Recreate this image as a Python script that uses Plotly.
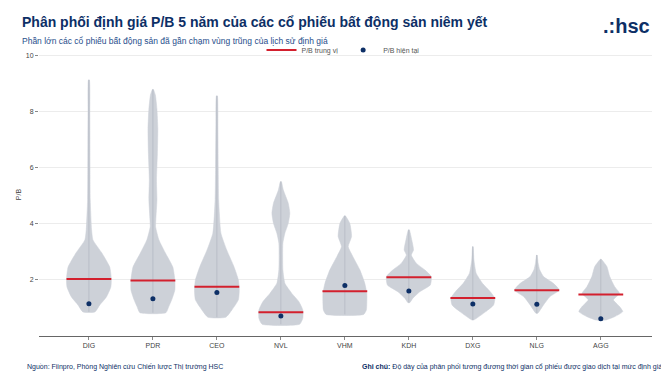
import plotly.graph_objects as go

# ---------------- data ----------------
categories = ["DIG", "PDR", "CEO", "NVL", "VHM", "KDH", "DXG", "NLG", "AGG"]
median_pb = [2.03, 1.98, 1.76, 0.85, 1.60, 2.10, 1.36, 1.63, 1.48]
current_pb = [1.15, 1.33, 1.55, 0.71, 1.80, 1.61, 1.14, 1.13, 0.62]

# density profiles: P/B levels and relative density (0..1)
dig_levels = [0.86, 1.11, 1.39, 1.75, 2.04, 2.46, 2.96, 3.43, 3.79, 4.86, 6.0, 8.0, 9.14]
dig_density = [0.27, 0.49, 0.78, 0.98, 1.0, 0.93, 0.58, 0.18, 0.12, 0.06, 0.05, 0.04, 0.02]
pdr_levels = [0.83, 1.05, 1.29, 1.64, 2.0, 2.46, 2.96, 3.43, 3.9, 4.14, 4.86, 5.57, 6.5, 7.4, 8.1, 8.6, 8.8]
pdr_density = [0.58, 0.71, 0.84, 0.98, 0.98, 0.89, 0.56, 0.27, 0.12, 0.13, 0.18, 0.16, 0.2, 0.22, 0.18, 0.11, 0.02]
ceo_levels = [0.67, 0.93, 1.29, 1.64, 2.0, 2.48, 3.07, 3.67, 4.86, 6.0, 7.5, 8.57]
ceo_density = [0.4, 0.67, 0.96, 1.0, 0.96, 0.76, 0.44, 0.18, 0.08, 0.06, 0.045, 0.02]
nvl_levels = [0.42, 0.63, 0.93, 1.23, 1.52, 1.88, 2.36, 3.31, 3.67, 4.02, 4.38, 4.74, 5.21, 5.51]
nvl_density = [0.84, 0.98, 0.98, 0.8, 0.49, 0.18, 0.09, 0.09, 0.18, 0.33, 0.4, 0.33, 0.11, 0.02]
vhm_levels = [0.77, 0.93, 1.17, 1.52, 1.88, 2.36, 2.83, 3.19, 3.55, 4.02, 4.29]
vhm_density = [0.84, 0.96, 0.98, 0.98, 0.89, 0.67, 0.36, 0.15, 0.3, 0.22, 0.02]
kdh_levels = [1.19, 1.35, 1.58, 1.82, 2.12, 2.36, 2.6, 2.89, 3.07, 3.43, 3.79]
kdh_density = [0.04, 0.18, 0.49, 0.96, 1.0, 0.71, 0.33, 0.11, 0.21, 0.13, 0.02]
dxg_levels = [0.57, 0.87, 1.11, 1.35, 1.58, 1.88, 2.24, 2.71, 3.19]
dxg_density = [0.04, 0.58, 0.93, 0.98, 0.78, 0.43, 0.15, 0.05, 0.01]
nlg_levels = [0.81, 1.11, 1.4, 1.64, 1.88, 2.12, 2.36, 2.6, 2.89]
nlg_density = [0.04, 0.3, 0.58, 1.0, 0.74, 0.3, 0.13, 0.06, 0.01]
agg_levels = [0.57, 0.69, 0.87, 1.05, 1.29, 1.52, 1.76, 2.12, 2.48, 2.74]
agg_density = [0.22, 0.62, 0.98, 0.84, 0.56, 0.84, 0.62, 0.4, 0.27, 0.02]

profiles = [
    (dig_levels, dig_density), (pdr_levels, pdr_density), (ceo_levels, ceo_density),
    (nvl_levels, nvl_density), (vhm_levels, vhm_density), (kdh_levels, kdh_density),
    (dxg_levels, dxg_density), (nlg_levels, nlg_density), (agg_levels, agg_density),
]

y_ticks = [2, 4, 6, 8, 10]

# ---------------- style ----------------
HALF = 0.35
NAVY = "#0d2f66"
FILL = "#cdd1d8"
OFF = 8                    # default page body margin
W, H = 669 - OFF, 376 - OFF
# plot area in page pixels: x 39..652, y 53..336
L, R, T, B = 39 - OFF, 669 - 652, 53 - OFF, 376 - 336
PW = W - L - R
PH = H - T - B

fig = go.Figure()

for i, (lv, dn) in enumerate(profiles):
    xs = [i + d * HALF for d in dn] + [i - d * HALF for d in reversed(dn)] + [i + dn[0] * HALF]
    ys = list(lv) + list(reversed(lv)) + [lv[0]]
    fig.add_trace(go.Scatter(x=xs, y=ys, mode="lines", fill="toself", fillcolor=FILL,
                             line=dict(color=FILL, width=0.5, shape="spline", smoothing=0.5),
                             hoverinfo="skip", showlegend=False))
    fig.add_trace(go.Scatter(x=[i, i], y=[lv[0], lv[-1]], mode="lines",
                             line=dict(color="#b9bec7", width=1),
                             hoverinfo="skip", showlegend=False))

mx, my = [], []
for i, m in enumerate(median_pb):
    mx += [i - HALF, i + HALF, None]
    my += [m, m, None]
fig.add_trace(go.Scatter(x=mx, y=my, mode="lines", name="P/B trung vị",
                         line=dict(color="#d3202e", width=2)))
fig.add_trace(go.Scatter(x=list(range(len(categories))), y=current_pb, mode="markers",
                         name="P/B hiện tại", marker=dict(color=NAVY, size=5)))


def px_x(x):
    return (x - OFF - L) / PW


def px_y(y):
    return (H - B - (y - OFF)) / PH


fig.update_layout(
    width=W, height=H,
    margin=dict(l=L, r=R, t=T, b=B, autoexpand=False),
    paper_bgcolor="white", plot_bgcolor="white",
    font=dict(family="Liberation Sans, Arial, sans-serif", size=7, color="#444"),
    showlegend=True,
    legend=dict(orientation="h", x=px_x(343), xanchor="center", y=px_y(50), yanchor="middle",
                font=dict(size=7, color="#555"), bgcolor="rgba(0,0,0,0)"),
    xaxis=dict(range=[-0.78, 8.8], tickmode="array", tickvals=list(range(len(categories))),
               ticktext=categories, showgrid=False, zeroline=False, showline=True,
               linecolor="#666", linewidth=1, ticks="outside", ticklen=3, tickcolor="#888",
               tickfont=dict(size=7, color="#444"), automargin=False),
    yaxis=dict(range=[0, 10.1], tickmode="array", tickvals=y_ticks, showgrid=True,
               gridcolor="#ececec", gridwidth=1, zeroline=False, showline=False,
               ticks="outside", ticklen=3, tickcolor="#888",
               tickfont=dict(size=7, color="#444"), automargin=False,
               title=dict(text="P/B", font=dict(size=7, color="#444"), standoff=3)),
)

fig.add_annotation(text="<b>Phân phối định giá P/B 5 năm của các cổ phiếu bất động sản niêm yết</b>",
                   xref="paper", yref="paper", x=px_x(20), y=px_y(22),
                   xanchor="left", yanchor="middle", showarrow=False,
                   font=dict(size=14, color=NAVY))
fig.add_annotation(text="Phần lớn các cổ phiếu bất động sản đã gần chạm vùng trũng của lịch sử định giá",
                   xref="paper", yref="paper", x=px_x(20), y=px_y(41),
                   xanchor="left", yanchor="middle", showarrow=False,
                   font=dict(size=8.5, color="#1f4e8c"))
fig.add_annotation(text="<b>.:hsc</b>",
                   xref="paper", yref="paper", x=px_x(652), y=px_y(26),
                   xanchor="right", yanchor="middle", showarrow=False,
                   font=dict(size=20, color=NAVY))
fig.add_annotation(text="Nguồn: Fiinpro, Phòng Nghiên cứu Chiến lược Thị trường HSC",
                   xref="paper", yref="paper", x=px_x(25), y=px_y(366),
                   xanchor="left", yanchor="middle", showarrow=False,
                   font=dict(size=7, color=NAVY))
fig.add_annotation(text="<b>Ghi chú:</b> Độ dày của phân phối tương đương thời gian cổ phiếu được giao dịch tại mức định giá",
                   xref="paper", yref="paper", x=px_x(664), y=px_y(366),
                   xanchor="right", yanchor="middle", showarrow=False,
                   font=dict(size=7, color=NAVY))

fig.write_html("out.html")
